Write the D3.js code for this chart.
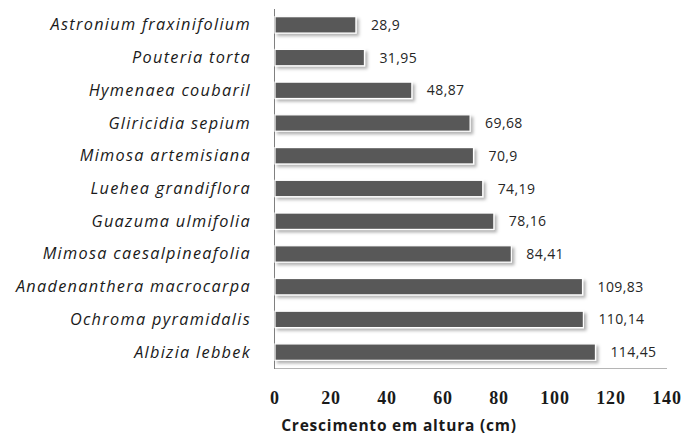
<!DOCTYPE html>
<html><head><meta charset="utf-8">
<script src="https://cdn.jsdelivr.net/npm/d3@7/dist/d3.min.js"></script>
<style>
html,body{margin:0;padding:0;background:#fff;}
svg{display:block;}
</style></head>
<body>
<svg id="chart" width="684" height="436"></svg>
<script>
const species = ["Astronium fraxinifolium","Pouteria torta","Hymenaea coubaril","Gliricidia sepium","Mimosa artemisiana","Luehea grandiflora","Guazuma ulmifolia","Mimosa caesalpineafolia","Anadenanthera macrocarpa","Ochroma pyramidalis","Albizia lebbek"];
const growth = [28.9,31.95,48.87,69.68,70.9,74.19,78.16,84.41,109.83,110.14,114.45];
const growthLabels = ["28,9","31,95","48,87","69,68","70,9","74,19","78,16","84,41","109,83","110,14","114,45"];
const xTicks = [0,20,40,60,80,100,120,140];
const xTitle = "Crescimento em altura (cm)";

const svg = d3.select("#chart");
const x = d3.scaleLinear().domain([0,140]).range([275,667]);
const y = d3.scaleBand().domain(species).range([8.5,368.5]).paddingInner(0.5).paddingOuter(0.25);

const defs = svg.append("defs");
const f = defs.append("filter").attr("id","sh").attr("x","-5%").attr("y","-30%").attr("width","115%").attr("height","180%");
f.append("feDropShadow").attr("dx",2.5).attr("dy",2.5).attr("stdDeviation",1.6).attr("flood-color","#000").attr("flood-opacity",0.3);

// axes lines
svg.append("line").attr("x1",x(0)).attr("x2",x(140)).attr("y1",368.5).attr("y2",368.5).attr("stroke","#b5b5b5").attr("stroke-width",1);
svg.append("line").attr("x1",x(0)-0.5).attr("x2",x(0)-0.5).attr("y1",9).attr("y2",369).attr("stroke","#808080").attr("stroke-width",1);

// bars
svg.append("g").selectAll("rect").data(species).join("rect")
  .attr("x",x(0)).attr("y",d=>y(d))
  .attr("width",(d,i)=>x(growth[i])-x(0)).attr("height",y.bandwidth())
  .attr("fill","#595959").attr("stroke","#ffffff").attr("stroke-width",1.2)
  .attr("filter","url(#sh)");

// value labels
svg.append("g").selectAll("text").data(species).join("text")
  .attr("x",(d,i)=>x(growth[i])+15).attr("y",d=>y(d)+y.bandwidth()/2+5)
  .attr("font-family","'Open Sans', sans-serif").attr("font-size",14).attr("font-weight",400)
  .attr("fill","#262626").attr("letter-spacing",0.4)
  .text((d,i)=>growthLabels[i]);

// category labels
svg.append("g").selectAll("text").data(species).join("text")
  .attr("x",251).attr("y",d=>y(d)+y.bandwidth()/2+5.5)
  .attr("text-anchor","end")
  .attr("font-family","'Open Sans', sans-serif").attr("font-style","italic").attr("font-size",16.3)
  .attr("fill","#1a1a1a").attr("letter-spacing",1.3)
  .text(d=>d);

// x tick labels
svg.append("g").selectAll("text").data(xTicks).join("text")
  .attr("x",d=>x(d)).attr("y",404)
  .attr("text-anchor","middle")
  .attr("font-family","'Liberation Serif', serif").attr("font-weight","bold").attr("font-size",18)
  .attr("fill","#1a1a1a").attr("letter-spacing",0.8)
  .text(d=>d);

// axis title
svg.append("text").attr("x",399).attr("y",431).attr("text-anchor","middle")
  .attr("font-family","'Open Sans', sans-serif").attr("font-weight","bold").attr("font-size",15.5)
  .attr("fill","#1a1a1a").attr("letter-spacing",0.8)
  .text(xTitle);
</script>
</body></html>
